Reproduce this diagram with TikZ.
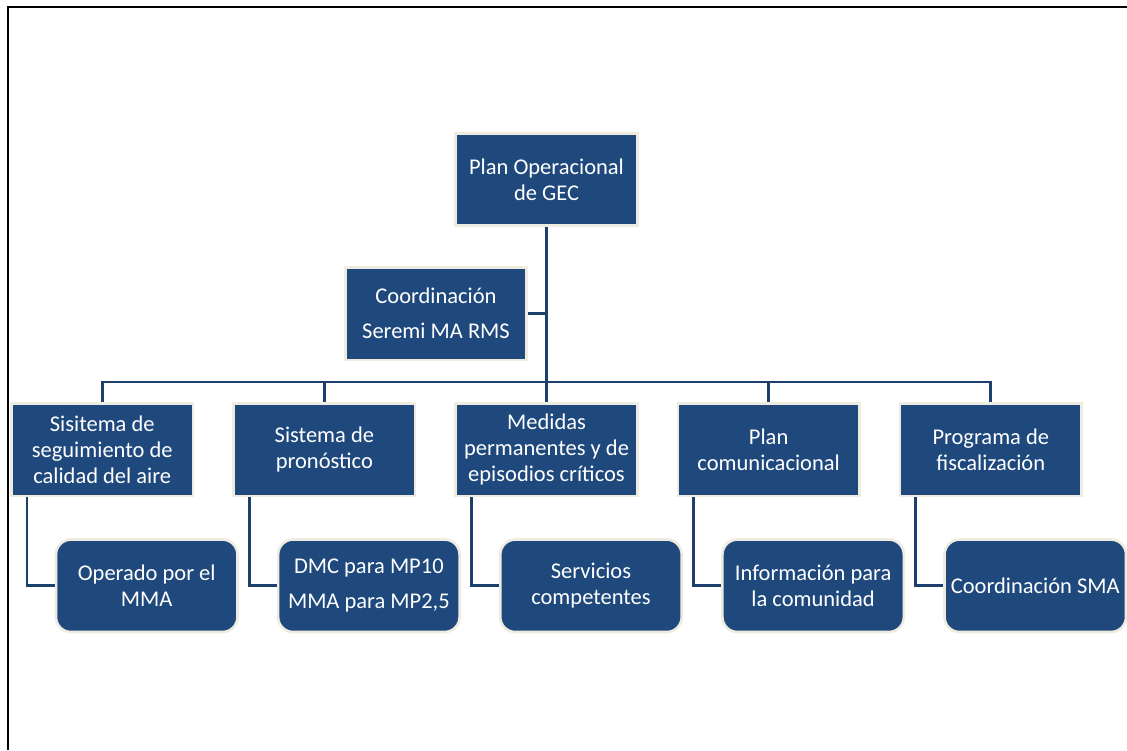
\documentclass[tikz,border=0pt]{standalone}
\usepackage{fontspec}
\setmainfont{Carlito}
\usepackage{xcolor}
\usepackage{tikz}
\usetikzlibrary{positioning}

\definecolor{navy}{HTML}{1F497D}
\definecolor{cream}{HTML}{EEECE1}
\definecolor{linkblue}{HTML}{1C3F6E}

\begin{document}
\begin{tikzpicture}[
    node distance=0.76cm and 0.76cm,
    box/.style={rectangle, draw=cream, line width=1.5pt, fill=navy, text=white, minimum width=3.63cm, minimum height=1.85cm, inner sep=2pt, font=\fontsize{12.8}{14.8}\selectfont, align=center},
    sub/.style={box, rounded corners=0.3cm},
    link/.style={draw=linkblue, line width=1.5pt},
    frame/.style={draw=black, line width=1.4pt}
]

\useasboundingbox (0,0) rectangle (22.54,-15);

% Frame
\coordinate (fbl) at (0.16,-15);
\coordinate (ftr) at (22.54,-0.14);
\draw[frame] (fbl) |- (ftr);

% Top
\node[box] (plan) at (10.93,-3.59) {Plan Operacional\\de GEC};
\node[box, below=0.78cm of plan, xshift=-2.21cm] (coord) {Coordinación\\[5pt]Seremi MA RMS};

% Main areas
\node[box, below=3.5cm of plan] (b3) {Medidas\\permanentes y de\\episodios críticos};
\node[box, left=of b3] (b2) {Sistema de\\pronóstico};
\node[box, left=of b2] (b1) {Sisitema de\\seguimiento de\\calidad del aire};
\node[box, right=of b3] (b4) {Plan\\comunicacional};
\node[box, right=of b4] (b5) {Programa de\\fiscalización};

% Responsibles
\node[sub, below=0.82cm of b1, xshift=0.89cm] (c1) {Operado por el\\MMA};
\node[sub, below=0.82cm of b2, xshift=0.89cm] (c2) {DMC para MP10\\[5pt]MMA para MP2,5};
\node[sub, below=0.82cm of b3, xshift=0.89cm] (c3) {Servicios\\competentes};
\node[sub, below=0.82cm of b4, xshift=0.89cm] (c4) {Información para\\la comunidad};
\node[sub, below=0.82cm of b5, xshift=0.89cm] (c5) {Coordinación SMA};

% Lines
\draw[link] (coord.east) -- (coord.east -| plan.south);
\foreach \i in {1,...,5} {
    \draw[link] (plan.south) |- ([yshift=0.4cm]b\i.north) -- (b\i.north);
    \draw[link] ([xshift=0.34cm]b\i.south west) |- (c\i.west);
}

\end{tikzpicture}
\end{document}
